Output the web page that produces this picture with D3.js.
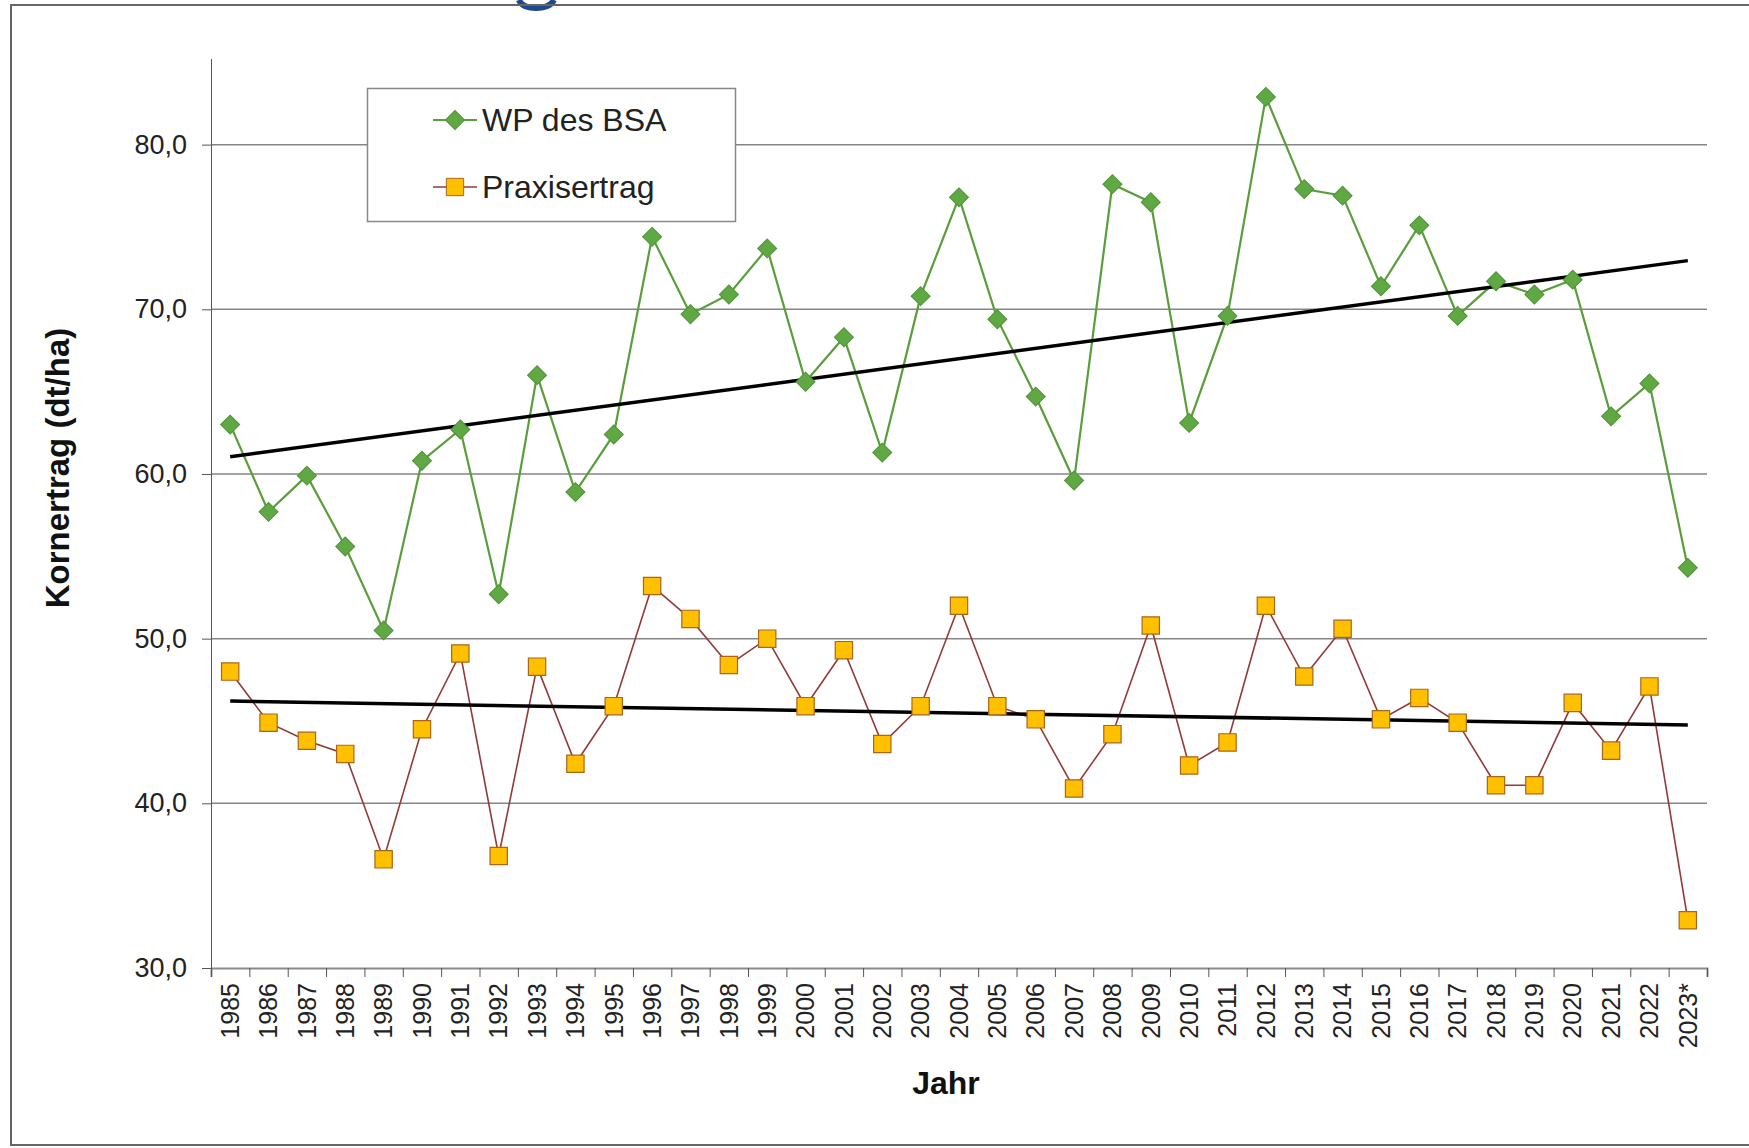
<!DOCTYPE html>
<html>
<head>
<meta charset="utf-8">
<script src="https://cdn.jsdelivr.net/npm/d3@7"></script>
<style>
    html, body { margin: 0; background: #fff; overflow: hidden; }
    svg { display: block; }
    svg text { font-family: "Liberation Sans", Arial, sans-serif; }
</style>
</head>
<body>
<svg id="chart"></svg>
<script>
// Jahre (Kategorien)
const years = ["1985", "1986", "1987", "1988", "1989", "1990", "1991", "1992", "1993", "1994",
    "1995", "1996", "1997", "1998", "1999", "2000", "2001", "2002", "2003", "2004",
    "2005", "2006", "2007", "2008", "2009", "2010", "2011", "2012", "2013", "2014",
    "2015", "2016", "2017", "2018", "2019", "2020", "2021", "2022", "2023*"];

// WP des BSA (dt/ha)
const wpBSA = [63.0, 57.7, 59.9, 55.6, 50.5, 60.8, 62.7, 52.7, 66.0, 58.9,
    62.4, 74.4, 69.7, 70.9, 73.7, 65.6, 68.3, 61.3, 70.8, 76.8,
    69.4, 64.7, 59.6, 77.6, 76.5, 63.1, 69.6, 82.9, 77.3, 76.9,
    71.4, 75.1, 69.6, 71.7, 70.9, 71.8, 63.5, 65.5, 54.3];

// Praxisertrag (dt/ha)
const praxis = [48.0, 44.9, 43.8, 43.0, 36.6, 44.5, 49.1, 36.8, 48.3, 42.4,
    45.9, 53.2, 51.2, 48.4, 50.0, 45.9, 49.3, 43.6, 45.9, 52.0,
    45.9, 45.1, 40.9, 44.2, 50.8, 42.3, 43.7, 52.0, 47.7, 50.6,
    45.1, 46.4, 44.9, 41.1, 41.1, 46.1, 43.2, 47.1, 32.9];

const yTicks = [30, 40, 50, 60, 70, 80];
const seriesNames = ["WP des BSA", "Praxisertrag"];

const chartW = 1749, chartH = 1148;
const plotLeft = 211, plotRight = 1707, plotTop = 59, plotBottom = 968;

// lineare Trendlinie (kleinste Quadrate)
function trend(values) {
    let n = values.length;
    let mx = d3.mean(values, (d, i) => i);
    let my = d3.mean(values);
    let sxy = 0, sxx = 0;
    values.forEach(function(v, i) {
        sxy += (i - mx) * (v - my);
        sxx += (i - mx) * (i - mx);
    });
    let b = sxy / sxx;
    let a = my - b * mx;
    return [{ i: 0, v: a }, { i: n - 1, v: a + b * (n - 1) }];
}

let svg = d3.select("#chart")
    .attr("width", chartW)
    .attr("height", chartH);

svg.append("rect").attr("width", chartW).attr("height", chartH).attr("fill", "#fff");

// Rest des abgeschnittenen Titels oben
svg.append("path")
    .attr("d", "M519,0 Q522,8 536,8 Q550,8 554,0")
    .attr("fill", "none")
    .attr("stroke", "#1f4b8e")
    .attr("stroke-width", 6);

// Rahmen (rechts ausserhalb des Bildes)
svg.append("path")
    .attr("d", "M" + chartW + ",5H11V1145H" + chartW)
    .attr("fill", "none")
    .attr("stroke", "#666")
    .attr("stroke-width", 2);

let x = d3.scaleBand().domain(years).range([plotLeft, plotRight]);
let xi = d3.scaleLinear().domain([0, years.length]).range([plotLeft, plotRight]);
let y = d3.scaleLinear().domain([30, 85.2]).range([plotBottom, plotTop]);
let cx = function(i) { return x(years[i]) + x.bandwidth() / 2; };

// Gitternetz
svg.append("g").selectAll("line")
    .data(yTicks.slice(1))
    .enter()
    .append("line")
    .attr("x1", plotLeft).attr("x2", plotRight)
    .attr("y1", d => y(d)).attr("y2", d => y(d))
    .attr("stroke", "#858585")
    .attr("stroke-width", 1.5);

// y-Achse
let yAxis = svg.append("g")
    .attr("transform", "translate(" + plotLeft + ",0)")
    .call(d3.axisLeft(y).tickValues(yTicks).tickSize(9).tickPadding(15)
        .tickFormat(d => d.toFixed(1).replace(".", ",")));
yAxis.select(".domain").attr("d", "M0.5," + plotTop + "V" + (plotBottom + 9)).attr("stroke", "#555");
yAxis.selectAll(".tick line").attr("stroke", "#555");
yAxis.selectAll("text").attr("style", "font-size:27px;fill:#222");

// x-Achse: Striche zwischen den Kategorien
let xTicks = svg.append("g")
    .attr("transform", "translate(0," + plotBottom + ")")
    .call(d3.axisBottom(xi).tickValues(d3.range(years.length + 1)).tickSize(9).tickFormat(""));
xTicks.select(".domain").attr("stroke", "#8a8a8a").attr("stroke-width", 2);
xTicks.selectAll(".tick line").attr("stroke", "#555");

// x-Achse: Beschriftung
let xLabels = svg.append("g")
    .attr("transform", "translate(0," + plotBottom + ")")
    .call(d3.axisBottom(x).tickSize(0));
xLabels.select(".domain").remove();
xLabels.selectAll("text")
    .attr("transform", "rotate(-90)")
    .attr("text-anchor", "end")
    .attr("x", -15)
    .attr("y", 0)
    .attr("dy", "0.35em")
    .attr("style", "font-size:25px;fill:#222");

// Achsentitel
svg.append("text")
    .attr("text-anchor", "middle")
    .attr("transform", "translate(69,468) rotate(-90)")
    .attr("style", "font-size:33px;font-weight:bold;fill:#111")
    .text("Kornertrag (dt/ha)");

svg.append("text")
    .attr("text-anchor", "middle")
    .attr("x", 946).attr("y", 1094)
    .attr("style", "font-size:32px;font-weight:bold;fill:#111")
    .text("Jahr");

let line = d3.line()
    .x((d, i) => cx(i))
    .y(d => y(d));

let diamond = d3.symbol().type(d3.symbolSquare).size(180);
let square = d3.symbol().type(d3.symbolSquare).size(300);

// Praxisertrag
svg.append("path")
    .attr("d", line(praxis))
    .attr("fill", "none")
    .attr("stroke", "#923a3a")
    .attr("stroke-width", 1.6);

// WP des BSA
svg.append("path")
    .attr("d", line(wpBSA))
    .attr("fill", "none")
    .attr("stroke", "#5a9e3c")
    .attr("stroke-width", 2.2);

// Trendlinien
let trendLine = d3.line().x(d => cx(d.i)).y(d => y(d.v));
[wpBSA, praxis].forEach(function(s) {
    svg.append("path")
        .attr("d", trendLine(trend(s)))
        .attr("fill", "none")
        .attr("stroke", "#000")
        .attr("stroke-width", 3.5);
});

svg.append("g").selectAll("path")
    .data(praxis)
    .enter()
    .append("path")
    .attr("d", square)
    .attr("transform", (d, i) => "translate(" + cx(i) + "," + y(d) + ")")
    .attr("fill", "#ffc000")
    .attr("stroke", "#a8661c")
    .attr("stroke-width", 1.2);

svg.append("g").selectAll("path")
    .data(wpBSA)
    .enter()
    .append("path")
    .attr("d", diamond)
    .attr("transform", (d, i) => "translate(" + cx(i) + "," + y(d) + ") rotate(45)")
    .attr("fill", "#5fa843")
    .attr("stroke", "#4f9236")
    .attr("stroke-width", 1);

// Legende
let legend = svg.append("g");
legend.append("rect")
    .attr("x", 367.5).attr("y", 88.5)
    .attr("width", 368).attr("height", 133)
    .attr("fill", "#fff")
    .attr("stroke", "#888")
    .attr("stroke-width", 1.5);

let items = legend.selectAll("g.item")
    .data(seriesNames)
    .enter()
    .append("g")
    .attr("class", "item")
    .attr("transform", (d, i) => "translate(455," + (120 + i * 67) + ")");

items.append("line")
    .attr("x1", -22).attr("x2", 22)
    .attr("stroke", (d, i) => i == 0 ? "#5a9e3c" : "#923a3a")
    .attr("stroke-width", (d, i) => i == 0 ? 2.2 : 1.6);

items.append("path")
    .attr("d", (d, i) => i == 0 ? diamond() : square())
    .attr("transform", (d, i) => i == 0 ? "rotate(45)" : "")
    .attr("fill", (d, i) => i == 0 ? "#5fa843" : "#ffc000")
    .attr("stroke", (d, i) => i == 0 ? "#4f9236" : "#a8661c");

items.append("text")
    .attr("x", 27)
    .attr("dy", "0.35em")
    .attr("style", "font-size:32px;fill:#222")
    .text(d => d);
</script>
</body>
</html>
